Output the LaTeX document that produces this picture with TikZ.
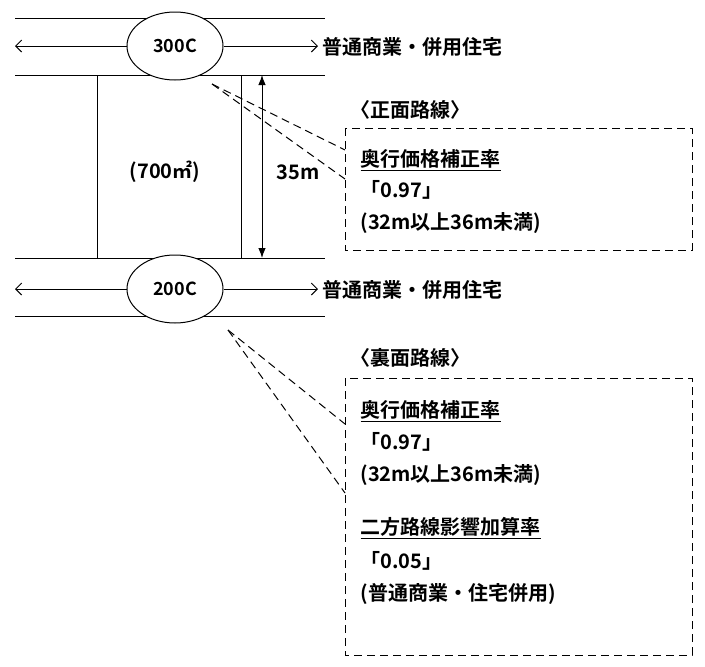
\documentclass[tikz,border=0pt]{standalone}
\usepackage{fontspec}
\setmainfont{Noto Sans CJK JP}[BoldFont={* Bold}]
\usetikzlibrary{arrows.meta, shapes.geometric}

\begin{document}
\begin{tikzpicture}[x=1pt, y=-1pt, line width=1pt,
    txt/.style={anchor=west, inner sep=0pt, font=\fontsize{20}{22}\selectfont\bfseries},
    lead/.style={dashed, dash pattern=on 8pt off 5pt}]
    \useasboundingbox (0,0) rectangle (705,667);
    % roads
    \foreach \y in {18,75,258,316} \draw (15,\y) -- (325,\y);
    \node (top) [draw, ellipse, minimum width=96, minimum height=68, inner sep=0pt, fill=white,
        font=\fontsize{18}{20}\selectfont\bfseries] at (175,46) {300C};
    \node (bot) [draw, ellipse, minimum width=96, minimum height=68, inner sep=0pt, fill=white,
        font=\fontsize{18}{20}\selectfont\bfseries] at (175,289) {200C};
    \coordinate (tl) at (15,46);
    \coordinate (tr) at (318,46);
    \coordinate (bl) at (15,289);
    \coordinate (br) at (318,289);
    \draw [-{Straight Barb[length=6pt]}] (top.west) -- (tl);
    \draw [-{Straight Barb[length=6pt]}] (top.east) -- (tr);
    \draw [-{Straight Barb[length=6pt]}] (bot.west) -- (bl);
    \draw [-{Straight Barb[length=6pt]}] (bot.east) -- (br);
    \node [txt] at (322,47) {普通商業・併用住宅};
    \node [txt] at (322,290) {普通商業・併用住宅};
    % lot
    \draw (97,75) -- (97,258);
    \draw (241,75) -- (241,258);
    \coordinate (d1) at (262,75);
    \coordinate (d2) at (262,258);
    \draw [{Latex[length=10pt]}-{Latex[length=10pt]}] (d1) -- (d2);
    \node [txt, anchor=center] at (165,172) {(700㎡)};
    \node [txt, anchor=center, fill=white, inner sep=1pt] at (298,172) {35m};
    % front road note
    \node [txt] at (350,110) {〈正面路線〉};
    \draw [lead] (345,128) rectangle (692,250);
    \coordinate (f0) at (212,84);
    \coordinate (f1) at (345,150);
    \coordinate (f2) at (345,179);
    \draw [lead] (f0) -- (f1);
    \draw [lead] (f0) -- (f2);
    \node [txt] at (360,160) {\underline{奥行価格補正率}};
    \node [txt] at (360,190) {「0.97」};
    \node [txt] at (360,223) {(32m以上36m未満)};
    % rear road note
    \node [txt] at (350,358) {〈裏面路線〉};
    \draw [lead] (345,378) rectangle (692,655);
    \coordinate (r0) at (228,330);
    \coordinate (r1) at (345,424);
    \coordinate (r2) at (345,493);
    \draw [lead] (r0) -- (r1);
    \draw [lead] (r0) -- (r2);
    \node [txt] at (360,411) {\underline{奥行価格補正率}};
    \node [txt] at (360,442) {「0.97」};
    \node [txt] at (360,475) {(32m以上36m未満)};
    \node [txt] at (360,528) {\underline{二方路線影響加算率}};
    \node [txt] at (360,561) {「0.05」};
    \node [txt] at (360,594) {(普通商業・住宅併用)};
\end{tikzpicture}
\end{document}
